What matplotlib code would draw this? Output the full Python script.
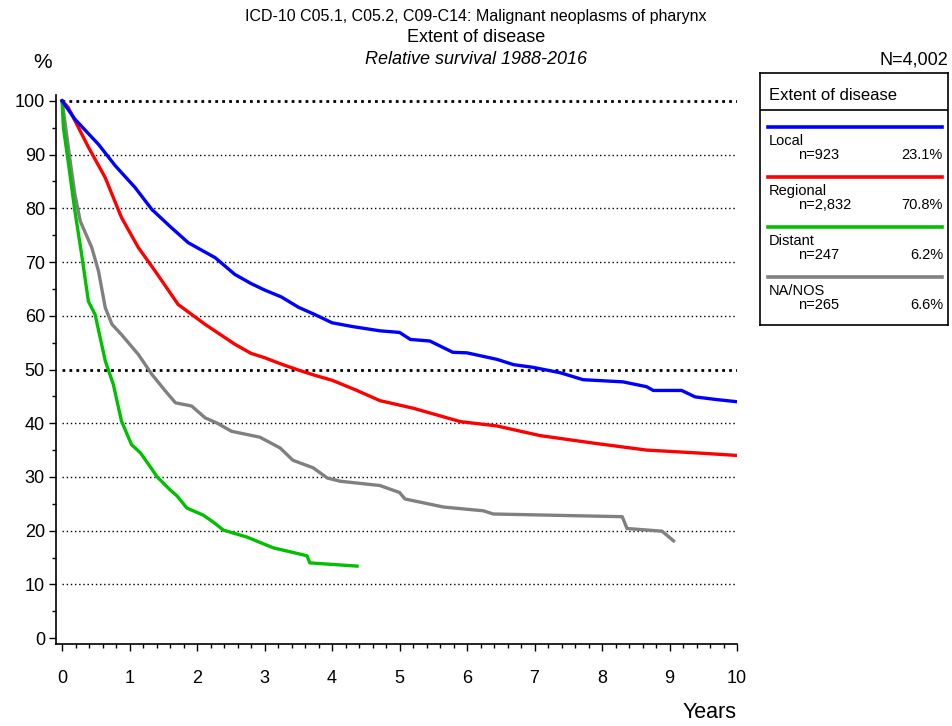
import matplotlib
matplotlib.use("Agg")
import matplotlib.pyplot as plt
from matplotlib.ticker import MultipleLocator

plt.rcParams['font.family'] = ['Liberation Sans', 'DejaVu Sans']

# survival curves (years, relative survival %)
local_t = [0, 0.19, 0.54, 0.79, 1.08, 1.33, 1.62, 1.87, 2.27, 2.56, 2.8, 3.0, 3.25, 3.5, 3.75, 4.0,
           4.3, 4.71, 5.0, 5.16, 5.45, 5.79, 6.0, 6.44, 6.69, 6.98, 7.38, 7.72, 8.31, 8.66, 8.76,
           9.18, 9.38, 9.7, 10.0]
local_s = [100, 96.6, 91.9, 87.9, 83.9, 79.8, 76.4, 73.6, 70.8, 67.7, 66.0, 64.8, 63.5, 61.6, 60.2, 58.7,
           58.0, 57.2, 56.9, 55.6, 55.3, 53.2, 53.1, 51.9, 50.9, 50.4, 49.4, 48.1, 47.7, 46.8, 46.1,
           46.1, 44.9, 44.4, 44.0]

regional_t = [0, 0.09, 0.39, 0.64, 0.88, 1.13, 1.38, 1.72, 2.12, 2.56, 2.8, 3.0, 3.25, 3.5, 3.75, 4.0,
              4.35, 4.71, 5.2, 5.9, 6.44, 7.08, 7.87, 8.66, 9.5, 10.0]
regional_s = [100, 98.8, 91.4, 85.7, 78.3, 72.7, 68.3, 62.1, 58.4, 54.7, 53.0, 52.2, 51.0, 49.9, 48.9, 48.0,
              46.2, 44.2, 42.8, 40.3, 39.5, 37.7, 36.3, 35.0, 34.4, 34.0]

distant_t = [0, 0.02, 0.09, 0.19, 0.29, 0.39, 0.49, 0.64, 0.76, 0.88, 1.03, 1.16, 1.3, 1.41,
             1.6, 1.7, 1.85, 2.09, 2.25, 2.39, 2.74, 3.13, 3.57, 3.63, 3.67, 4.37]
distant_s = [100, 95.0, 88.8, 79.5, 71.4, 62.7, 60.2, 51.6, 47.2, 40.4, 36.0, 34.5, 32.0, 30.0,
             27.6, 26.5, 24.2, 22.9, 21.5, 20.1, 18.8, 16.8, 15.5, 15.3, 14.0, 13.4]

nanos_t = [0, 0.04, 0.12, 0.19, 0.27, 0.44, 0.54, 0.64, 0.74, 0.88, 1.13, 1.33, 1.53, 1.68, 1.92, 2.12,
           2.3, 2.51, 2.93, 3.23, 3.42, 3.72, 3.93, 4.12, 4.71, 5.0, 5.08, 5.65, 6.24, 6.39, 8.30,
           8.37, 8.89, 9.06]
nanos_s = [100, 96.3, 88.8, 82.6, 77.6, 72.7, 68.3, 61.5, 58.4, 56.5, 52.8, 49.1, 46.0, 43.8, 43.2, 41.0,
           40.0, 38.5, 37.4, 35.4, 33.1, 31.7, 29.8, 29.2, 28.4, 27.1, 25.9, 24.4, 23.7, 23.1, 22.6,
           20.4, 19.9, 18.1]

groups = ['Local', 'Regional', 'Distant', 'NA/NOS']
counts = ['n=923', 'n=2,832', 'n=247', 'n=265']
shares = ['23.1%', '70.8%', '6.2%', '6.6%']
colors = ['#0000ff', '#ff0000', '#00c000', '#808080']
series = [(local_t, local_s), (regional_t, regional_s), (distant_t, distant_s), (nanos_t, nanos_s)]

fig = plt.figure(figsize=(9.53, 7.26), dpi=100)
W, H = 953.0, 726.0

# main axes: spines at px x=56 (left) and y=644 (bottom)
ax = fig.add_axes([56 / W, (H - 644) / H, 681 / W, 549 / H])
ax.set_xlim(-0.09, 10.0)
ax.set_ylim(-1.1, 101.1)

# dotted reference lines, heavier at 50 and 100
for lvl in range(10, 101, 10):
    heavy = lvl in (50, 100)
    ax.plot([0, 10], [lvl, lvl], color='black', linestyle=(0, (1, 2)) if not heavy else (0, (1, 1.5)),
            linewidth=2.0 if heavy else 1.0, zorder=1)

# draw in reverse so blue sits on top
for (t, s), c in reversed(list(zip(series, colors))):
    ax.plot(t, s, color=c, linewidth=2.4, solid_joinstyle='round', zorder=3)

for side in ('top', 'right'):
    ax.spines[side].set_visible(False)
ax.spines['left'].set_linewidth(1.2)
ax.spines['bottom'].set_linewidth(1.2)

ax.xaxis.set_major_locator(MultipleLocator(1))
ax.xaxis.set_minor_locator(MultipleLocator(0.2))
ax.yaxis.set_major_locator(MultipleLocator(10))
ax.yaxis.set_minor_locator(MultipleLocator(5))
ax.tick_params(axis='both', which='major', length=5, width=1, labelsize=13, direction='out')
ax.tick_params(axis='both', which='minor', length=3, width=1, direction='out')
ax.tick_params(axis='x', pad=14)
ax.tick_params(axis='y', pad=3)

# titles and annotations
fig.text(476 / W, 1 - 17 / H, 'ICD-10 C05.1, C05.2, C09-C14: Malignant neoplasms of pharynx',
         ha='center', va='center', fontsize=11.5)
fig.text(476 / W, 1 - 38 / H, 'Extent of disease', ha='center', va='center', fontsize=13)
fig.text(476 / W, 1 - 60 / H, 'Relative survival 1988-2016', ha='center', va='center',
         fontsize=13, style='italic')
fig.text(43 / W, 1 - 62 / H, '%', ha='center', va='center', fontsize=15)
fig.text(948 / W, 1 - 60 / H, 'N=4,002', ha='right', va='center', fontsize=13)
fig.text(737 / W, 1 - 712 / H, 'Years', ha='right', va='center', fontsize=15.5)

# legend box in pixel coordinates
lg = fig.add_axes([760 / W, (H - 325) / H, 188 / W, 252 / H])
lg.set_xlim(760, 948)
lg.set_ylim(325, 73)
lg.set_xticks([])
lg.set_yticks([])
for sp in lg.spines.values():
    sp.set_linewidth(1.2)
lg.text(769, 96, 'Extent of disease', ha='left', va='center', fontsize=12)
lg.plot([760, 948], [110, 110], color='black', linewidth=1.2)
for i, (g, n, p, c) in enumerate(zip(groups, counts, shares, colors)):
    y0 = 127 + 50 * i
    lg.plot([768, 942], [y0, y0], color=c, linewidth=2.6)
    lg.text(769, y0 + 14, g, ha='left', va='center', fontsize=10.5)
    lg.text(798, y0 + 28, n, ha='left', va='center', fontsize=10.5)
    lg.text(943, y0 + 28, p, ha='right', va='center', fontsize=10.5)

fig.savefig('out.png', dpi=100)
